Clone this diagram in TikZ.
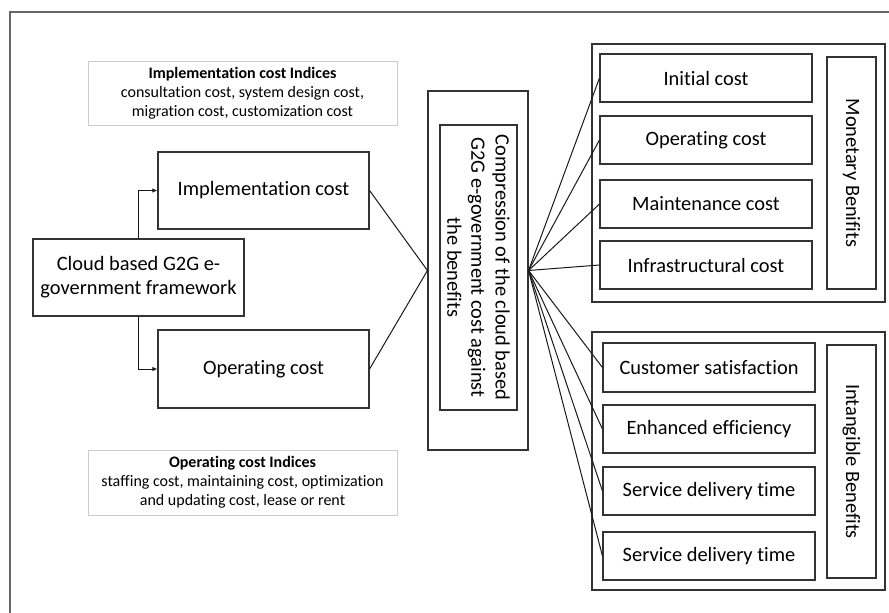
\documentclass[tikz,border=0pt]{standalone}
\usepackage{fontspec}
\setmainfont{Carlito}[Ligatures={NoCommon,NoContextual},Contextuals=NoAlternate]
\usetikzlibrary{arrows.meta,positioning}
\tikzset{
	costbox/.style={draw=black!80, line width=1.1pt, inner sep=0pt, align=center,
		minimum width=211pt, minimum height=77pt, font=\fontsize{20.4}{24.2}\selectfont},
	benefitbox/.style={costbox, minimum width=212pt, minimum height=48pt},
	indexbox/.style={draw=black!20, line width=0.9pt, inner sep=0pt, align=center,
		minimum width=309pt, minimum height=64pt, font=\fontsize{16}{19.2}\selectfont},
	groupbox/.style={draw=black!80, line width=1.1pt, inner sep=0pt,
		minimum width=293pt, minimum height=258pt},
	sidelabel/.style={costbox, rotate=-90, minimum width=232pt, minimum height=49pt},
	link/.style={black!90, line width=1pt},
	feed/.style={link, -{Latex[length=5pt,width=4.5pt]}}
}

\begin{document}
\begin{tikzpicture}[x=1pt,y=-1pt]
	\useasboundingbox (0,0) rectangle (889,613);

	% Drawing outer frame
	\draw [black!60, line width=1.5pt] (10.000000,613.000000) -- (10.000000,12.000000) -- (889.000000,12.000000);%

	% Drawing indices boxes
	\node [indexbox] (implidx) at (242.500000,93.000000)
		{\textbf{Implementation cost Indices}\\consultation cost, system design cost,\\migration cost, customization cost};%
	\node [indexbox, minimum height=65pt] (operidx) at (242.500000,482.500000)
		{\textbf{Operating cost Indices}\\staffing cost, maintaining cost, optimization\\and updating cost, lease or rent};%

	% Drawing cost boxes
	\node [costbox] (cloud) at (138.500000,277.500000) {Cloud based G2G e-\\government framework};%
	\node [costbox] (impl) at (263.500000,190.500000) {Implementation cost};%
	\node [costbox, minimum height=78pt] (oper) at (263.500000,369.000000) {Operating cost};%

	% Drawing comparison box
	\node [draw=black!80, line width=1.1pt, minimum width=100pt, minimum height=359pt] (comp) at (478.000000,270.500000) {};%
	\node [costbox, rotate=-90, minimum width=285pt] (compin) at (478.500000,267.500000)
		{Compression of the cloud based\\G2G e-government cost against\\the benefits};%

	% Drawing monetary group
	\node [groupbox] (mon) at (738.500000,173.000000) {};%
	\node [benefitbox] (ini) at (706.000000,78.000000) {Initial cost};%
	\node [benefitbox] (opc) at (706.000000,140.000000) {Operating cost};%
	\node [benefitbox] (mnt) at (706.000000,204.000000) {Maintenance cost};%
	\node [benefitbox] (inf) at (706.000000,265.000000) {Infrastructural cost};%
	\node [sidelabel] (monlbl) at (851.500000,173.000000) {Monetary Benifits};%

	% Drawing intangible group
	\node [groupbox] (itg) at (738.500000,461.000000) {};%
	\node [benefitbox, minimum height=49pt] (cst) at (709.000000,367.500000) {Customer satisfaction};%
	\node [benefitbox] (eff) at (709.000000,429.000000) {Enhanced efficiency};%
	\node [benefitbox] (sdt) at (709.000000,491.000000) {Service delivery time};%
	\node [benefitbox] (sdu) at (709.000000,556.000000) {Service delivery time};%
	\node [sidelabel, minimum width=233pt] (itglbl) at (851.500000,461.500000) {Intangible Benefits};%

	% Drawing connectors
	\draw [feed] (cloud.north) |- (impl.west);%
	\draw [feed] (cloud.south) |- (oper.west);%
	\draw [link] (impl.east) -- (comp.west) -- (oper.east);%
	\foreach \b in {ini,opc,mnt,inf,cst,eff,sdt,sdu}
		\draw [link] (comp.east) -- (\b.west);%
\end{tikzpicture}
\end{document}
